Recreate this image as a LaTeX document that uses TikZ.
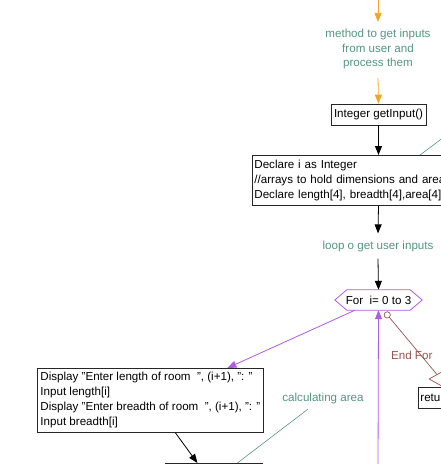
\documentclass[tikz,border=0pt]{standalone}
\usepackage{fontspec}
\setmainfont{Liberation Sans}
\usetikzlibrary{arrows.meta,shapes.geometric,positioning}
\definecolor{notegreen}{RGB}{84,150,128}
\definecolor{inorange}{RGB}{245,165,35}
\definecolor{looppurple}{RGB}{176,90,230}
\definecolor{endbrown}{RGB}{150,85,75}
\tikzset{
	procbox/.style={draw=black!85,line width=0.8pt,inner sep=2pt,font=\fontsize{11.6}{15}\selectfont},
	note/.style={text=notegreen,align=center,inner sep=1pt,font=\fontsize{11.6}{14.5}\selectfont},
	flowline/.style={draw=black,line width=0.8pt},
	inline/.style={draw=inorange,line width=0.8pt},
	loopline/.style={draw=looppurple,line width=0.8pt},
	endline/.style={draw=endbrown,line width=0.7pt},
	noteline/.style={draw=notegreen,line width=0.6pt}
}
\begin{document}
	\begin{tikzpicture}[x=1pt,y=-1pt,>={Triangle[length=9pt,width=7pt]}]
		\useasboundingbox (0,0) rectangle (440,464);
		\coordinate (start) at (378,-5);
		\node[note] (method) at (378,49) {method to get inputs\\from user and\\process them};
		\node[procbox,minimum width=95,minimum height=21] (getinput) at (378.5,114.5) {Integer getInput()};
		\node[procbox,anchor=north west,text width=226,minimum height=50,align=left] (declare) at (252,155) {Declare i as Integer\\//arrays to hold dimensions and area\\Declare length[4], breadth[4],area[4]};
		\coordinate (declnote) at (446,135.5);
		\node[note] (loop) at (378,246) {loop o get user inputs};
		\node[minimum width=87,minimum height=20,inner sep=0pt,font=\fontsize{11.6}{15}\selectfont] (for) at (378.5,300) {For\ \ i= 0 to 3};
		\node[procbox,anchor=north west,minimum width=226,minimum height=64,align=left,inner xsep=1pt] (display) at (37,368) {Display "Enter length of room\ \ ", (i+1), ": "\\Input length[i]\\Display "Enter breadth of room\ \ ", (i+1), ": "\\Input breadth[i]};
		\node[note] (calcnote) at (323,398) {calculating area};
		\node[procbox,anchor=north west,minimum width=97,minimum height=30] (calc) at (165,463) {};
		\coordinate (loopback) at (378,470);
		\node[diamond,draw=endbrown,line width=0.7pt,minimum width=32,minimum height=18,inner sep=0pt] (endfor) at (445,379) {};
		\node[procbox,anchor=north west,minimum height=21] (return) at (418,387) {return};

		\draw[inline,->] (start) -- ([yshift=6pt]method.north);
		\draw[inline,->] ([yshift=-8pt]method.south) -- (getinput.north);
		\draw[flowline,->] (getinput) -- (getinput |- declare.north);
		\draw[noteline] ([xshift=168pt]declare.north west) -- (declnote);
		\draw[flowline,->] (getinput |- declare.south) -- ([yshift=6pt]loop.north);
		\draw[flowline,->] ([yshift=-6pt]loop.south) -- (for.north);
		\draw[loopline] (for.west) -- ([xshift=12pt]for.north west) -- ([xshift=-12pt]for.north east) -- (for.east) -- ([xshift=-12pt]for.south east) -- ([xshift=12pt]for.south west) -- cycle;
		\draw[loopline,->] ([xshift=-23.5pt]for.south) -- ([xshift=77pt]display.north);
		\draw[loopline,->] (loopback) -- (for.south);
		\draw[endline,{Circle[open,length=7pt]}-] ([xshift=6.5pt,yshift=-2pt]for.south) -- (endfor.north west) node[pos=0.7,xshift=-9.5pt,text=endbrown,font=\fontsize{11.6}{15}\selectfont] {End For};
		\draw[flowline,->] ([xshift=25pt]display.south) -- ([xshift=-16.5pt]calc.north);
		\draw[noteline] ([xshift=-15pt,yshift=-4.5pt]calcnote.south) -- ([xshift=23.5pt]calc.north);
	\end{tikzpicture}
\end{document}
